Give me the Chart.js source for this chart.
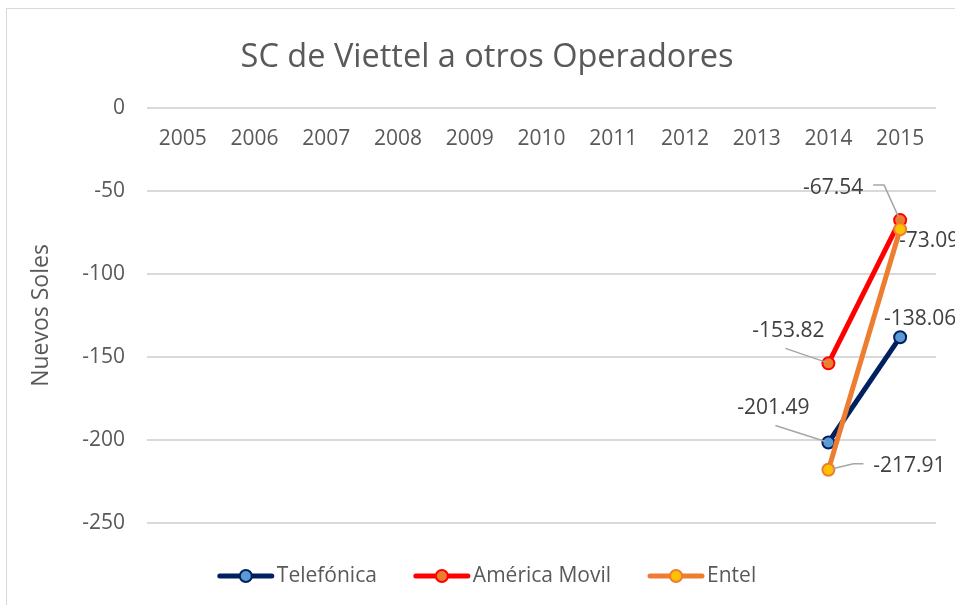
<!DOCTYPE html>
<html><head><meta charset="utf-8">
<script src="https://cdn.jsdelivr.net/npm/chart.js@4/dist/chart.umd.min.js"></script>
<style>
html,body{margin:0;padding:0;background:#fff;overflow:hidden;width:955px;height:605px;}
#frame{position:absolute;left:6px;top:8px;width:1000px;height:700px;border-left:1px solid #d9d9d9;border-top:1px solid #d9d9d9;}
#wrap{position:absolute;left:7px;top:9px;width:960px;height:600px;}
</style></head><body>
<div id="frame"></div>
<div id="wrap"><canvas id="c" width="960" height="600"></canvas></div>
<script>
// ---- data ----
const years = ['2005','2006','2007','2008','2009','2010','2011','2012','2013','2014','2015'];
const telefonica   = [null,null,null,null,null,null,null,null,null,-201.49,-138.06];
const americaMovil = [null,null,null,null,null,null,null,null,null,-153.82,-67.54];
const entel        = [null,null,null,null,null,null,null,null,null,-217.91,-73.09];
const seriesNames = ['Telefónica','América Movil','Entel'];
const yMin = -250, yMax = 0, yStep = 50;
const chartTitle = 'SC de Viettel a otros Operadores';
const yTitle = 'Nuevos Soles';

// ---- styles ----
const FONT = "'Open Sans', sans-serif";
const TXT = '#595959';
const styles = [
  {line:'#002060', fill:'#5b9bd5', border:'#002060', order:3},
  {line:'#ff0000', fill:'#ed7d31', border:'#ff0000', order:2},
  {line:'#ed7d31', fill:'#ffc000', border:'#ed7d31', order:1}
];
// label placement (pixel offsets from the point), per series, per category
const labelLayout = [
  {'2014':{dx:-55,dy:-34,leader:[[-53,-17],[-3,-1]]}, '2015':{dx:20,dy:-18}},
  {'2014':{dx:-40,dy:-32,leader:[[-43,-15],[-2,-1]]}, '2015':{dx:-67,dy:-32,leader:[[-27,-35],[-16,-35],[-2,-4]]}},
  {'2014':{dx:81,dy:-4,leader:[[4,-1],[25,-6],[35,-6]]}, '2015':{dx:29,dy:12}}
];

Chart.defaults.font.family = FONT;

const seriesData = [telefonica, americaMovil, entel];
const datasets = seriesData.map((d,i)=>({
  label: seriesNames[i],
  data: d,
  yAxisID: 'y',
  borderColor: styles[i].line,
  backgroundColor: styles[i].fill,
  borderWidth: 5,
  pointRadius: 6,
  pointHoverRadius: 6,
  pointBackgroundColor: styles[i].fill,
  pointBorderColor: styles[i].border,
  pointBorderWidth: 2,
  order: styles[i].order,
  tension: 0
}));

const dataLabels = {
  id:'dataLabels',
  afterDatasetsDraw(chart){
    const ctx = chart.ctx;
    ctx.save();
    chart.data.datasets.forEach((ds,i)=>{
      const meta = chart.getDatasetMeta(i);
      meta.data.forEach((pt,j)=>{
        const v = ds.data[j];
        if (v === null || v === undefined) return;
        const lay = labelLayout[i][chart.data.labels[j]] || {dx:0,dy:-20};
        if (lay.leader){
          ctx.strokeStyle = '#a6a6a6';
          ctx.lineWidth = 1.5;
          ctx.beginPath();
          lay.leader.forEach((p,k)=>{
            const X = pt.x + p[0], Y = pt.y + p[1];
            if (k===0) ctx.moveTo(X,Y); else ctx.lineTo(X,Y);
          });
          ctx.stroke();
        }
        ctx.fillStyle = '#404040';
        ctx.font = "21px " + FONT;
        ctx.textAlign = 'center';
        ctx.textBaseline = 'middle';
        ctx.fillText(v.toFixed(2), pt.x + lay.dx, pt.y + lay.dy);
      });
    });
    ctx.restore();
  }
};

const customLegend = {
  id:'customLegend',
  afterDraw(chart){
    const ctx = chart.ctx;
    ctx.save();
    ctx.font = "21px " + FONT;
    const lineLen = 56, gapText = 3, gapItem = 37;
    const widths = seriesNames.map(n=>ctx.measureText(n).width);
    let total = 0;
    widths.forEach((w,i)=>{ total += lineLen + gapText + w + (i<widths.length-1?gapItem:0); });
    let x = chart.width/2 - total/2;
    const y = 567;
    seriesNames.forEach((n,i)=>{
      const st = styles[i];
      ctx.strokeStyle = st.line;
      ctx.lineWidth = 5;
      ctx.lineCap = 'round';
      ctx.beginPath(); ctx.moveTo(x+2,y); ctx.lineTo(x+lineLen-2,y); ctx.stroke();
      ctx.beginPath(); ctx.arc(x+lineLen/2,y,6,0,Math.PI*2);
      ctx.fillStyle = st.fill; ctx.fill();
      ctx.lineWidth = 2; ctx.strokeStyle = st.border; ctx.stroke();
      ctx.fillStyle = TXT;
      ctx.textAlign = 'left'; ctx.textBaseline = 'middle';
      ctx.fillText(n, x+lineLen+gapText, y);
      x += lineLen + gapText + widths[i] + gapItem;
    });
    ctx.restore();
  }
};

new Chart(document.getElementById('c'), {
  type:'line',
  data:{ labels: years, datasets },
  options:{
    responsive:false,
    animation:false,
    events:[],
    layout:{ padding:{left:0, right:0, top:0, bottom:86} },
    plugins:{
      legend:{display:false},
      tooltip:{enabled:false},
      title:{display:true, text:chartTitle, color:TXT, font:{size:32.5, weight:'normal'}, padding:{top:29,bottom:31}}
    },
    scales:{
      x:{
        type:'category',
        offset:true,
        position:{y:0},
        grid:{display:false, drawTicks:false},
        border:{display:false},
        ticks:{color:TXT, font:{size:21}, padding:18, maxRotation:0, autoSkip:false},
        afterFit(s){ s.height = 0; }
      },
      y:{
        position:'left',
        min:yMin, max:yMax,
        grid:{color:'#d9d9d9', lineWidth:2, drawTicks:false},
        border:{display:false},
        ticks:{stepSize:yStep, color:TXT, font:{size:21}, padding:22},
        title:{display:true, text:yTitle, color:TXT, font:{size:23}, padding:{top:21,bottom:25}},
        afterFit(s){ s.width = 140; }
      },
      yRight:{
        position:'right',
        display:true,
        grid:{display:false, drawTicks:false},
        border:{display:false},
        ticks:{display:false},
        afterFit(s){ s.width = 31; }
      }
    }
  },
  plugins:[dataLabels, customLegend]
});
</script>
</body></html>
